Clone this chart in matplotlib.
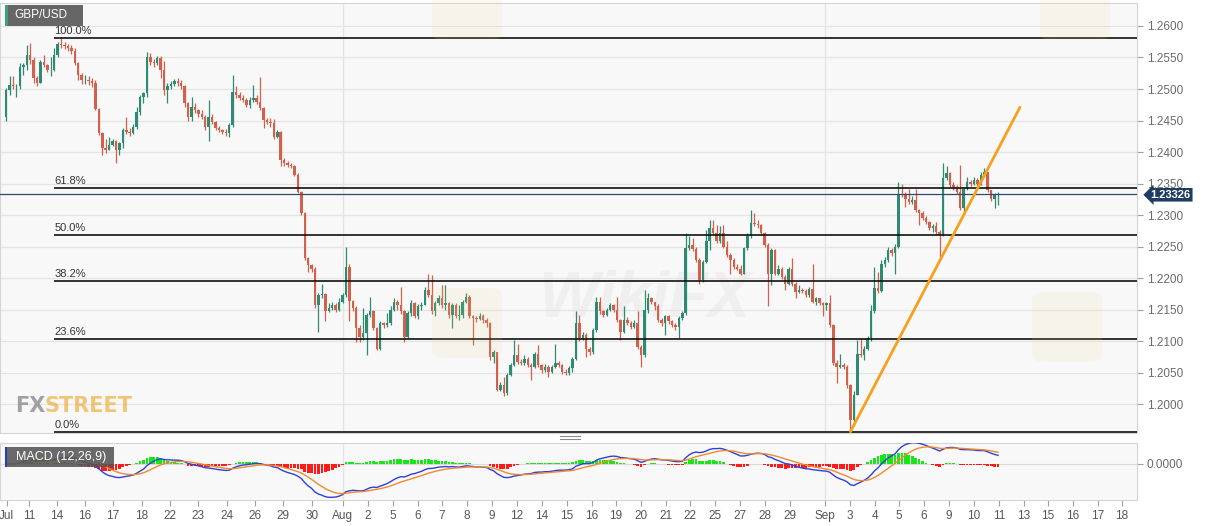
import numpy as np
import pandas as pd
import matplotlib
matplotlib.use('Agg')
import matplotlib.pyplot as plt
import matplotlib.transforms as mtransforms
from matplotlib.patches import Rectangle, FancyBboxPatch
from matplotlib.lines import Line2D

plt.rcParams['font.family'] = ['Liberation Sans', 'DejaVu Sans']

# GBP/USD 4h candles (open of each bar = previous close)
first_open = 1.2456
close = [
    1.2499, 1.2506, 1.2505, 1.2505, 1.2535, 1.2538, 1.2554, 1.2546, 1.2517, 1.2510,
    1.2543, 1.2538, 1.2530, 1.2530, 1.2554, 1.2572, 1.2570, 1.2568, 1.2565, 1.2560,
    1.2541, 1.2522, 1.2514, 1.2514, 1.2512, 1.2509, 1.2469, 1.2430, 1.2406, 1.2403,
    1.2411, 1.2417, 1.2403, 1.2414, 1.2435, 1.2432, 1.2430, 1.2440, 1.2464, 1.2488,
    1.2493, 1.2551, 1.2543, 1.2541, 1.2549, 1.2530, 1.2498, 1.2504, 1.2508, 1.2512,
    1.2510, 1.2504, 1.2477, 1.2456, 1.2472, 1.2466, 1.2460, 1.2455, 1.2440, 1.2456,
    1.2448, 1.2438, 1.2435, 1.2432, 1.2430, 1.2443, 1.2496, 1.2490, 1.2486, 1.2483,
    1.2475, 1.2483, 1.2486, 1.2480, 1.2470, 1.2451, 1.2448, 1.2446, 1.2424, 1.2432,
    1.2387, 1.2383, 1.2380, 1.2378, 1.2364, 1.2337, 1.2303, 1.2231, 1.2220, 1.2215,
    1.2157, 1.2173, 1.2174, 1.2147, 1.2152, 1.2157, 1.2150, 1.2162, 1.2173, 1.2218,
    1.2163, 1.2152, 1.2120, 1.2107, 1.2112, 1.2141, 1.2147, 1.2120, 1.2088, 1.2128,
    1.2125, 1.2128, 1.2149, 1.2162, 1.2157, 1.2147, 1.2107, 1.2144, 1.2160, 1.2139,
    1.2155, 1.2157, 1.2181, 1.2173, 1.2147, 1.2160, 1.2168, 1.2157, 1.2160, 1.2141,
    1.2157, 1.2139, 1.2141, 1.2162, 1.2170, 1.2139, 1.2136, 1.2135, 1.2139, 1.2133,
    1.2128, 1.2075, 1.2082, 1.2022, 1.2030, 1.2017, 1.2046, 1.2062, 1.2078, 1.2067,
    1.2065, 1.2072, 1.2062, 1.2059, 1.2080, 1.2062, 1.2054, 1.2059, 1.2051, 1.2059,
    1.2065, 1.2062, 1.2051, 1.2049, 1.2057, 1.2072, 1.2128, 1.2104, 1.2110, 1.2088,
    1.2083, 1.2117, 1.2162, 1.2147, 1.2141, 1.2149, 1.2157, 1.2150, 1.2133, 1.2115,
    1.2133, 1.2128, 1.2123, 1.2128, 1.2091, 1.2078, 1.2149, 1.2168, 1.2162, 1.2155,
    1.2133, 1.2128, 1.2139, 1.2131, 1.2126, 1.2123, 1.2136, 1.2144, 1.2247, 1.2252,
    1.2246, 1.2229, 1.2197, 1.2226, 1.2258, 1.2279, 1.2271, 1.2258, 1.2271, 1.2250,
    1.2236, 1.2229, 1.2218, 1.2215, 1.2207, 1.2247, 1.2266, 1.2287, 1.2286, 1.2284,
    1.2271, 1.2252, 1.2207, 1.2244, 1.2207, 1.2215, 1.2202, 1.2191, 1.2215, 1.2191,
    1.2178, 1.2181, 1.2179, 1.2173, 1.2182, 1.2162, 1.2168, 1.2160, 1.2157, 1.2160,
    1.2125, 1.2065, 1.2059, 1.2062, 1.2059, 1.2030, 1.1975, 1.2014, 1.2080, 1.2078,
    1.2088, 1.2104, 1.2147, 1.2184, 1.2180, 1.2223, 1.2229, 1.2244, 1.2239, 1.2250,
    1.2334, 1.2332, 1.2326, 1.2321, 1.2324, 1.2308, 1.2303, 1.2295, 1.2289, 1.2279,
    1.2282, 1.2273, 1.2268, 1.2358, 1.2366, 1.2348, 1.2345, 1.2337, 1.2311, 1.2342,
    1.2353, 1.2350, 1.2356, 1.2350, 1.2364, 1.2369, 1.2340, 1.2326, 1.2332, 1.23326,
]
high = [
    1.2502, 1.2520, 1.2520, 1.2508, 1.2541, 1.2541, 1.2570, 1.2573, 1.2550, 1.2520,
    1.2546, 1.2554, 1.2540, 1.2551, 1.2565, 1.2575, 1.2581, 1.2574, 1.2572, 1.2570,
    1.2565, 1.2543, 1.2525, 1.2522, 1.2520, 1.2518, 1.2514, 1.2470, 1.2432, 1.2420,
    1.2424, 1.2420, 1.2419, 1.2416, 1.2438, 1.2456, 1.2438, 1.2445, 1.2472, 1.2490,
    1.2496, 1.2558, 1.2557, 1.2548, 1.2553, 1.2552, 1.2545, 1.2509, 1.2512, 1.2516,
    1.2518, 1.2514, 1.2506, 1.2480, 1.2488, 1.2478, 1.2468, 1.2466, 1.2458, 1.2483,
    1.2460, 1.2450, 1.2442, 1.2437, 1.2436, 1.2446, 1.2522, 1.2505, 1.2496, 1.2490,
    1.2486, 1.2488, 1.2507, 1.2490, 1.2519, 1.2472, 1.2454, 1.2454, 1.2452, 1.2435,
    1.2434, 1.2390, 1.2386, 1.2382, 1.2380, 1.2366, 1.2338, 1.2305, 1.2234, 1.2222,
    1.2218, 1.2176, 1.2190, 1.2177, 1.2160, 1.2162, 1.2160, 1.2168, 1.2176, 1.2250,
    1.2222, 1.2165, 1.2155, 1.2125, 1.2152, 1.2145, 1.2170, 1.2149, 1.2122, 1.2131,
    1.2130, 1.2144, 1.2155, 1.2168, 1.2165, 1.2186, 1.2149, 1.2148, 1.2165, 1.2162,
    1.2158, 1.2162, 1.2186, 1.2207, 1.2205, 1.2163, 1.2173, 1.2189, 1.2189, 1.2162,
    1.2160, 1.2160, 1.2157, 1.2165, 1.2176, 1.2173, 1.2141, 1.2140, 1.2145, 1.2143,
    1.2136, 1.2130, 1.2086, 1.2083, 1.2035, 1.2043, 1.2049, 1.2065, 1.2102, 1.2096,
    1.2072, 1.2078, 1.2075, 1.2065, 1.2083, 1.2094, 1.2064, 1.2064, 1.2062, 1.2062,
    1.2096, 1.2068, 1.2064, 1.2055, 1.2060, 1.2075, 1.2147, 1.2141, 1.2115, 1.2112,
    1.2090, 1.2120, 1.2170, 1.2170, 1.2149, 1.2152, 1.2160, 1.2158, 1.2170, 1.2135,
    1.2155, 1.2138, 1.2131, 1.2133, 1.2147, 1.2093, 1.2181, 1.2176, 1.2170, 1.2162,
    1.2158, 1.2136, 1.2142, 1.2141, 1.2133, 1.2128, 1.2139, 1.2147, 1.2271, 1.2266,
    1.2263, 1.2250, 1.2231, 1.2229, 1.2276, 1.2292, 1.2292, 1.2284, 1.2282, 1.2284,
    1.2258, 1.2239, 1.2231, 1.2223, 1.2221, 1.2250, 1.2271, 1.2308, 1.2303, 1.2292,
    1.2285, 1.2273, 1.2256, 1.2247, 1.2246, 1.2220, 1.2217, 1.2204, 1.2218, 1.2231,
    1.2193, 1.2189, 1.2184, 1.2182, 1.2186, 1.2223, 1.2170, 1.2168, 1.2162, 1.2162,
    1.2173, 1.2127, 1.2070, 1.2080, 1.2065, 1.2062, 1.2032, 1.2020, 1.2102, 1.2104,
    1.2092, 1.2108, 1.2157, 1.2218, 1.2210, 1.2228, 1.2234, 1.2250, 1.2247, 1.2254,
    1.2353, 1.2350, 1.2336, 1.2342, 1.2330, 1.2342, 1.2310, 1.2306, 1.2298, 1.2291,
    1.2286, 1.2289, 1.2276, 1.2382, 1.2377, 1.2368, 1.2353, 1.2348, 1.2379, 1.2345,
    1.2361, 1.2356, 1.2360, 1.2358, 1.2369, 1.2375, 1.2369, 1.2340, 1.2335, 1.2337,
]
low = [
    1.2450, 1.2490, 1.2500, 1.2488, 1.2500, 1.2522, 1.2530, 1.2540, 1.2509, 1.2504,
    1.2510, 1.2535, 1.2527, 1.2520, 1.2528, 1.2550, 1.2565, 1.2563, 1.2560, 1.2555,
    1.2538, 1.2515, 1.2508, 1.2508, 1.2506, 1.2503, 1.2466, 1.2427, 1.2395, 1.2398,
    1.2403, 1.2410, 1.2382, 1.2395, 1.2406, 1.2428, 1.2426, 1.2428, 1.2436, 1.2458,
    1.2478, 1.2488, 1.2538, 1.2535, 1.2538, 1.2518, 1.2490, 1.2478, 1.2500, 1.2505,
    1.2504, 1.2500, 1.2472, 1.2450, 1.2450, 1.2462, 1.2456, 1.2452, 1.2435, 1.2417,
    1.2444, 1.2435, 1.2431, 1.2429, 1.2426, 1.2424, 1.2440, 1.2486, 1.2482, 1.2480,
    1.2471, 1.2470, 1.2480, 1.2476, 1.2466, 1.2438, 1.2444, 1.2440, 1.2420, 1.2422,
    1.2377, 1.2378, 1.2376, 1.2374, 1.2362, 1.2335, 1.2300, 1.2229, 1.2210, 1.2210,
    1.2152, 1.2115, 1.2168, 1.2131, 1.2146, 1.2150, 1.2146, 1.2148, 1.2160, 1.2170,
    1.2131, 1.2148, 1.2099, 1.2099, 1.2102, 1.2078, 1.2138, 1.2117, 1.2086, 1.2085,
    1.2120, 1.2122, 1.2126, 1.2147, 1.2150, 1.2143, 1.2099, 1.2104, 1.2140, 1.2136,
    1.2135, 1.2150, 1.2157, 1.2170, 1.2143, 1.2140, 1.2157, 1.2152, 1.2150, 1.2136,
    1.2120, 1.2136, 1.2133, 1.2136, 1.2160, 1.2136, 1.2094, 1.2130, 1.2133, 1.2128,
    1.2123, 1.2070, 1.2065, 1.2020, 1.2020, 1.2012, 1.2015, 1.2044, 1.2060, 1.2064,
    1.2062, 1.2062, 1.2059, 1.2038, 1.2057, 1.2059, 1.2049, 1.2051, 1.2043, 1.2049,
    1.2057, 1.2058, 1.2048, 1.2046, 1.2046, 1.2051, 1.2070, 1.2100, 1.2102, 1.2075,
    1.2078, 1.2080, 1.2115, 1.2143, 1.2138, 1.2139, 1.2147, 1.2146, 1.2130, 1.2102,
    1.2113, 1.2125, 1.2119, 1.2120, 1.2088, 1.2059, 1.2075, 1.2145, 1.2158, 1.2150,
    1.2130, 1.2124, 1.2110, 1.2127, 1.2122, 1.2118, 1.2104, 1.2133, 1.2141, 1.2245,
    1.2243, 1.2226, 1.2191, 1.2194, 1.2224, 1.2244, 1.2268, 1.2255, 1.2255, 1.2247,
    1.2233, 1.2207, 1.2215, 1.2212, 1.2205, 1.2207, 1.2244, 1.2263, 1.2282, 1.2280,
    1.2268, 1.2249, 1.2155, 1.2189, 1.2204, 1.2205, 1.2199, 1.2181, 1.2189, 1.2188,
    1.2168, 1.2176, 1.2176, 1.2170, 1.2170, 1.2160, 1.2157, 1.2157, 1.2139, 1.2150,
    1.2122, 1.2062, 1.2033, 1.2057, 1.2055, 1.2025, 1.1956, 1.1965, 1.2014, 1.2074,
    1.2070, 1.2086, 1.2100, 1.2144, 1.2176, 1.2178, 1.2218, 1.2226, 1.2235, 1.2207,
    1.2248, 1.2328, 1.2313, 1.2318, 1.2318, 1.2305, 1.2284, 1.2292, 1.2286, 1.2276,
    1.2273, 1.2270, 1.2234, 1.2266, 1.2356, 1.2345, 1.2340, 1.2334, 1.2308, 1.2305,
    1.2340, 1.2346, 1.2348, 1.2346, 1.2348, 1.2360, 1.2337, 1.2322, 1.2311, 1.2316,
]

fib_low, fib_high = 1.1956, 1.2581
fib_ratios = [0.0, 23.6, 38.2, 50.0, 61.8, 100.0]
last_price = 1.23326
trend_pts = [(247, 1.1956), (296.4, 1.2471)]

tick_pos = [1.2, 7.6, 15.7, 24.0, 32.1, 40.5, 48.7, 56.9, 65.2, 73.5, 81.7, 90.0,
            99.1, 106.4, 113.6, 121.0, 128.0, 135.3, 142.6, 149.8, 157.1, 164.4,
            171.7, 178.7, 185.9, 193.3, 200.3, 207.5, 214.8, 222.1, 229.4, 239.6,
            246.9, 254.2, 261.2, 268.4, 275.7, 283.0, 290.3, 297.6, 304.6, 311.9,
            319.1, 326.1]
tick_lbl = ['Jul', '11', '14', '16', '17', '18', '22', '23', '24', '26', '29', '30',
            'Aug', '2', '5', '6', '7', '8', '9', '12', '14', '15', '16', '19', '20',
            '21', '22', '25', '27', '28', '29', 'Sep', '3', '4', '5', '6', '9', '10',
            '11', '13', '15', '16', '17', '18']
month_pos = [99.1, 239.6]

close = np.array(close)
n = len(close)
x = np.arange(1, n + 1)
opn = np.concatenate([[first_open], close[:-1]])
high = np.maximum(np.array(high), np.maximum(opn, close))
low = np.minimum(np.array(low), np.minimum(opn, close))

# MACD (12,26,9) from the closes
s = pd.Series(close)
macd = s.ewm(span=12, adjust=False).mean() - s.ewm(span=26, adjust=False).mean()
signal = macd.ewm(span=9, adjust=False).mean()
hist = (macd - signal).values
macd = macd.values
signal = signal.values

W, H = 1207, 526
fig = plt.figure(figsize=(W / 100, H / 100), dpi=100)
ax = fig.add_axes([0, 1 - 433 / H, 1137 / W, 430 / H])
ax2 = fig.add_axes([0, 1 - 500 / H, 1137 / W, 57 / H])

bg = '#f8f8f8'
grid = '#e4e4e4'
frame = '#d4d4d4'
up_c = '#2e8a70'
dn_c = '#d2604b'

for a in (ax, ax2):
    a.set_facecolor(bg)
    for sp in a.spines.values():
        sp.set_color(frame)
        sp.set_linewidth(0.8)
    a.set_xlim(-0.8, 330.5)
    a.yaxis.tick_right()
    for m in month_pos:
        a.axvline(m, color=grid, lw=0.9, zorder=0)
    a.tick_params(axis='y', length=4, width=0.8, color='#a0a0a0',
                  labelcolor='#6a6a6a', labelsize=8.5, pad=3)

# candles
cols = np.where(close >= opn, up_c, dn_c)
ax.vlines(x, low, high, colors=cols, lw=0.9, zorder=3)
ax.bar(x, np.maximum(np.abs(close - opn), 0.00004), bottom=np.minimum(opn, close),
       width=0.72, color=cols, linewidth=0, zorder=4)

yt = np.arange(1.2000, 1.26001, 0.005)
ax.set_yticks(yt)
ax.set_yticklabels([f'{v:.4f}' for v in yt])
ax.grid(axis='y', color=grid, lw=0.9, zorder=0)
ax.set_xticks([])
ax.set_ylim(1.1954, 1.26365)

# fibonacci retracement
for r in fib_ratios:
    lvl = fib_low + (fib_high - fib_low) * r / 100
    ax.hlines(lvl, 15.0, 330.5, color='#111111', lw=1.2, zorder=5)
    ax.text(15.0, lvl + 0.0003, f'{r:.1f}%', fontsize=8, color='#333333',
            ha='left', va='bottom', zorder=6)

# trend line
ax.plot([p[0] for p in trend_pts], [p[1] for p in trend_pts], color='#f5a11c',
        lw=2.0, solid_capstyle='round', zorder=6)

# last price
ax.axhline(last_price, color='#2d4a70', lw=0.9, zorder=5)
tr = mtransforms.blended_transform_factory(ax.transAxes, ax.transData)
ax.text(1.012, last_price - 0.00005, f'{last_price:.5f}', transform=tr, ha='left',
        va='center', fontsize=8, fontweight='bold', color='white', clip_on=False,
        zorder=10, bbox=dict(boxstyle='larrow,pad=0.16', fc='#1f3d64', ec='none'))

# faint watermarks
ax.text(0.567, 0.31, 'WikiFX', ha='center', va='center', transform=ax.transAxes,
        fontsize=46, fontweight='bold', fontstyle='italic', color='#8a8a8a',
        alpha=0.08, zorder=1)
for bx, by in [(432, 288), (1032, 292), (432, -30), (1040, -30)]:
    fig.add_artist(FancyBboxPatch((bx / W, 1 - (by + 70) / H), 70 / W, 70 / H,
                                  boxstyle='round,pad=0,rounding_size=0.012',
                                  transform=fig.transFigure, fc='#f0d88e',
                                  ec='none', alpha=0.13, zorder=2))

fx_font = ['Liberation Sans Narrow', 'DejaVu Sans']
fig.text(15 / W, 1 - 412 / H, 'FX', color='#8c8c8c', fontsize=15, fontweight='bold',
         family=fx_font, alpha=0.8)
fig.text(44 / W, 1 - 412 / H, 'STREET', color='#f0a830', fontsize=15,
         fontweight='bold', family=fx_font, alpha=0.65)

# MACD panel
ax2.bar(x, hist, width=0.8, color=np.where(hist >= 0, '#19e619', '#ff1a1a'),
        linewidth=0, zorder=2)
ax2.plot(x, macd, color='#2e40d8', lw=1.0, zorder=3)
ax2.plot(x, signal, color='#f08a2c', lw=1.0, zorder=3)
ax2.axhline(0, color='#dadada', lw=0.8, zorder=1)
lo = min(macd.min(), signal.min()) * 1.08
ax2.set_ylim(lo, -lo * 21 / 36)
ax2.set_yticks([0])
ax2.set_yticklabels(['0.0000'])
ax2.set_xticks(tick_pos)
ax2.set_xticklabels(tick_lbl)
ax2.tick_params(axis='x', length=4, width=0.8, color='#a0a0a0', labelcolor='#555555',
                labelsize=8.5, pad=3)

# title and indicator boxes
fig.add_artist(Rectangle((5 / W, 1 - 26 / H), 78 / W, 21 / H, transform=fig.transFigure,
                         fc='#666666', ec='none', zorder=10))
fig.add_artist(Rectangle((5 / W, 1 - 26 / H), 2.5 / W, 21 / H, transform=fig.transFigure,
                         fc='#3e9e80', ec='none', zorder=11))
fig.text(14 / W, 1 - 15.5 / H, 'GBP/USD', color='white', fontsize=8.5, va='center',
         zorder=12)
fig.add_artist(Rectangle((5 / W, 1 - 467 / H), 109 / W, 20 / H, transform=fig.transFigure,
                         fc='#555555', ec='none', alpha=0.88, zorder=10))
fig.add_artist(Rectangle((5 / W, 1 - 467 / H), 2 / W, 20 / H, transform=fig.transFigure,
                         fc='#1b3fd0', ec='none', zorder=11))
fig.text(16 / W, 1 - 457 / H, 'MACD (12,26,9)', color='white', fontsize=9, va='center',
         zorder=12)

# panel resize handle
for yy in (436, 438.5):
    fig.add_artist(Line2D([560 / W, 580 / W], [1 - yy / H] * 2, color='#8a8a8a', lw=0.8))

fig.savefig('out.png', dpi=100, facecolor='white')
